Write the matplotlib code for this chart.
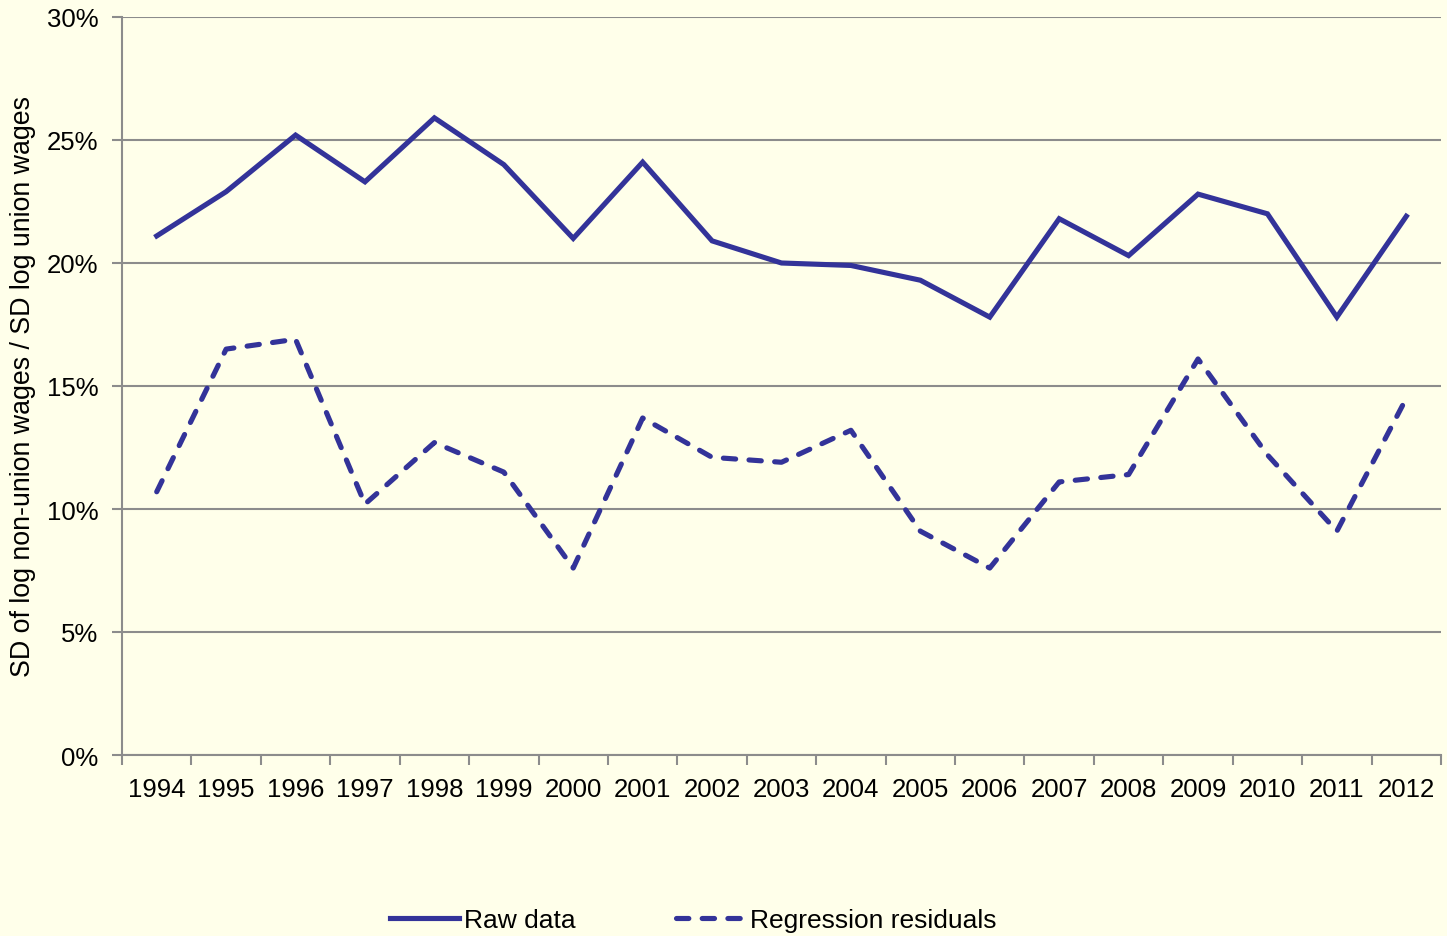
import numpy as np
import matplotlib.pyplot as plt
from matplotlib.ticker import PercentFormatter

years = [str(y) for y in range(1994, 2013)]
raw_data = [21.1, 22.9, 25.2, 23.3, 25.9, 24.0, 21.0, 24.1, 20.9, 20.0, 19.9,
            19.3, 17.8, 21.8, 20.3, 22.8, 22.0, 17.8, 21.9]
residuals = [10.7, 16.5, 16.9, 10.2, 12.7, 11.5, 7.6, 13.7, 12.1, 11.9, 13.2,
             9.1, 7.6, 11.1, 11.4, 16.1, 12.2, 9.1, 14.5]

bg = '#FFFFEA'
line_color = '#333399'
grid_color = '#8C8C8C'

plt.rcParams['font.family'] = ['Liberation Sans', 'DejaVu Sans']

fig = plt.figure(figsize=(14.47, 9.37), dpi=100, facecolor=bg)
ax = fig.add_axes([122 / 1447, 1 - 756 / 937, (1441 - 122) / 1447, (756 - 18) / 937])
ax.set_facecolor(bg)

x = np.arange(len(years))
ax.plot(x, raw_data, color=line_color, lw=3.7, solid_joinstyle='miter',
        label='Raw data')
ax.plot(x, residuals, color=line_color, lw=3.7, dashes=(2.4, 2.6),
        dash_capstyle='round', label='Regression residuals')

ax.set_xlim(-0.5, len(years) - 0.5)
ax.set_ylim(0, 30)
ax.set_yticks(np.arange(0, 31, 5))
ax.yaxis.set_major_formatter(PercentFormatter(decimals=0))
ax.set_xticks(x)
ax.set_xticklabels(years)
ax.set_xticks(np.arange(-0.5, len(years)), minor=True)
ax.tick_params(axis='x', which='major', length=0, pad=16, labelsize=18.5)
ax.tick_params(axis='x', which='minor', length=7, width=1.5, color=grid_color)
ax.tick_params(axis='y', length=7, width=1.5, color=grid_color, labelsize=18.5, pad=10)

ax.grid(axis='y', color=grid_color, lw=1.5)
ax.set_axisbelow(True)
for s in ['top', 'right']:
    ax.spines[s].set_visible(False)
for s in ['left', 'bottom']:
    ax.spines[s].set_color(grid_color)
    ax.spines[s].set_linewidth(1.5)

ax.set_ylabel('SD of log non-union wages / SD log union wages', fontsize=19.3, labelpad=8)

fig.legend(loc='center', bbox_to_anchor=(693 / 1447, 1 - 921 / 937), ncol=2,
           frameon=False, fontsize=19, handlelength=2.6, columnspacing=3.8,
           handletextpad=0.2)

fig.savefig('out.png', dpi=100, facecolor=bg)
